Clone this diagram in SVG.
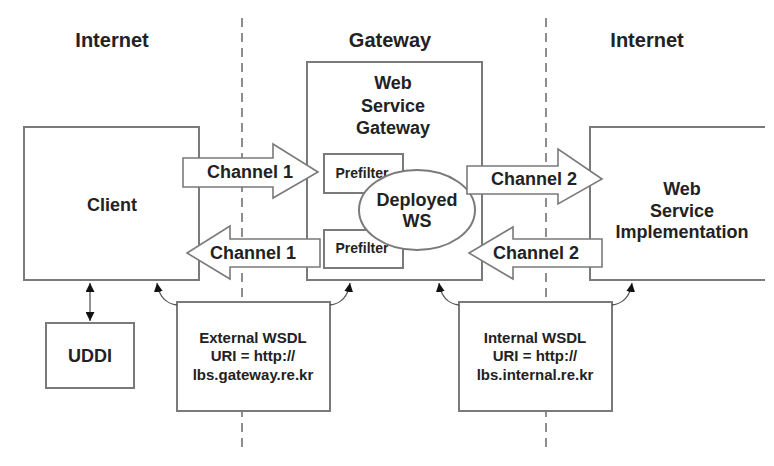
<svg xmlns="http://www.w3.org/2000/svg" width="774" height="466" viewBox="0 0 774 466">
<defs>
<style>
.box{fill:#fff;stroke:#7a7a7a;stroke-width:2}
.dash{stroke:#6a6a6a;stroke-width:1.5;stroke-dasharray:9,6;fill:none}
.blk{fill:#fff;stroke:#7a7a7a;stroke-width:1.6;stroke-linejoin:miter}
.cur{fill:none;stroke:#555;stroke-width:1.3}
text{font-family:"Liberation Sans",Arial,sans-serif;font-weight:bold;fill:#222;text-anchor:middle}
.t20{font-size:20px}
.t18{font-size:18px}
.t15{font-size:15px}
.t14{font-size:14px}
</style>
<marker id="ah" viewBox="0 0 10 10" refX="10" refY="5" markerWidth="9" markerHeight="9" markerUnits="userSpaceOnUse" orient="auto-start-reverse">
<path d="M0,0 L10,5 L0,10 z" fill="#111"/>
</marker>
</defs>
<rect width="774" height="466" fill="#fff"/>

<g id="zones">
<line class="dash" x1="242" y1="18" x2="242" y2="453"/>
<line class="dash" x1="546" y1="18" x2="546" y2="453"/>
<text class="t20" x="112" y="47">Internet</text>
<text class="t20" x="390" y="47">Gateway</text>
<text class="t20" x="647" y="47">Internet</text>
</g>

<g id="client">
<rect class="box" x="24" y="127" width="175" height="153"/>
<text class="t18" x="112" y="211">Client</text>
</g>

<g id="gateway">
<rect class="box" x="307" y="62" width="175" height="218"/>
<text class="t18" x="393" y="89">Web</text>
<text class="t18" x="393" y="112">Service</text>
<text class="t18" x="393" y="134">Gateway</text>
</g>

<g id="prefilter1">
<rect class="box" x="324" y="154" width="79" height="39"/>
<text class="t14" x="362" y="178">Prefilter</text>
</g>
<g id="prefilter2">
<rect class="box" x="324" y="230" width="79" height="38"/>
<text class="t14" x="362" y="253">Prefilter</text>
</g>

<g id="deployed">
<ellipse class="box" cx="417" cy="210" rx="58" ry="40"/>
<text class="t18" x="417" y="206">Deployed</text>
<text class="t18" x="417" y="227">WS</text>
</g>

<g id="implementation">
<path class="box" d="M765,127 H590 V280 H765"/>
<text class="t18" x="682" y="195">Web</text>
<text class="t18" x="682" y="217">Service</text>
<text class="t18" x="682" y="238">Implementation</text>
</g>

<g id="uddi">
<rect class="box" x="46" y="323" width="88" height="65"/>
<text class="t18" x="90" y="362">UDDI</text>
</g>

<g id="external-wsdl">
<rect class="box" x="177" y="302" width="153" height="109"/>
<text class="t15" x="253" y="343">External WSDL</text>
<text class="t15" x="253" y="361">URI = http://</text>
<text class="t15" x="253" y="380">lbs.gateway.re.kr</text>
</g>

<g id="internal-wsdl">
<rect class="box" x="459" y="302" width="153" height="109"/>
<text class="t15" x="535" y="343">Internal WSDL</text>
<text class="t15" x="535" y="361">URI = http://</text>
<text class="t15" x="535" y="380">lbs.internal.re.kr</text>
</g>

<g id="connectors">
<path class="blk" d="M183,158 H273 V144 L318,172 L273,198 V187 H183 Z"/>
<text class="t18" x="250" y="178">Channel 1</text>
<path class="blk" d="M320,239 H230 V226 L187,253 L230,279 V267 H320 Z"/>
<text class="t18" x="253" y="259">Channel 1</text>
<path class="blk" d="M467,166 H558 V149 L602,179 L558,204 V194 H467 Z"/>
<text class="t18" x="534" y="185">Channel 2</text>
<path class="blk" d="M602,239 H513 V227 L469,253 L513,279 V267 H602 Z"/>
<text class="t18" x="536" y="259">Channel 2</text>
<line class="cur" x1="90" y1="283" x2="90" y2="321" marker-start="url(#ah)" marker-end="url(#ah)"/>
<path class="cur" d="M177,305 Q160,303 157,283" marker-end="url(#ah)"/>
<path class="cur" d="M330,305 Q347,303 350,283" marker-end="url(#ah)"/>
<path class="cur" d="M459,305 Q442,303 439,283" marker-end="url(#ah)"/>
<path class="cur" d="M612,305 Q629,303 632,283" marker-end="url(#ah)"/>
</g>
</svg>
